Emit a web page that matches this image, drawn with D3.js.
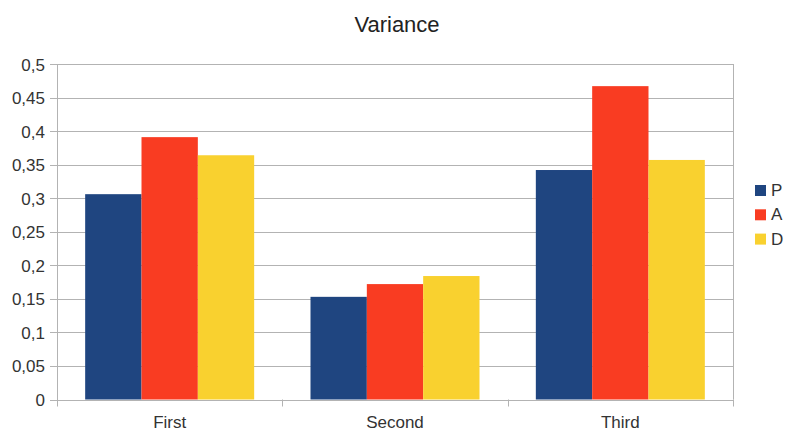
<!DOCTYPE html>
<html><head><meta charset="utf-8">
<script src="https://cdn.jsdelivr.net/npm/d3@7"></script>
<style>body{margin:0;background:#fff}svg{display:block;font-family:"Liberation Sans",Arial,sans-serif}</style>
</head><body><svg id="c" width="786" height="432"></svg>
<script>
const categories = ["First","Second","Third"];
const seriesNames = ["P","A","D"];
const P = [0.306, 0.153, 0.342];
const A = [0.391, 0.172, 0.467];
const D = [0.364, 0.184, 0.357];
const yTicks = [0,0.05,0.1,0.15,0.2,0.25,0.3,0.35,0.4,0.45,0.5];
const colors = ["#1f4580","#f93c22","#f9d12f"];
const values = [P,A,D];

const svg = d3.select("#c");
const m = {l:57, r:733, t:64, b:399.5};
const x = d3.scaleBand().domain(categories).range([m.l,m.r]).paddingInner(0).paddingOuter(0);
const y = d3.scaleLinear().domain([0,0.5]).range([m.b,m.t]);
const inner = d3.scaleBand().domain(seriesNames).range([0,x.bandwidth()]).paddingOuter(0.5).paddingInner(0);
const fmt = d => String(d).replace(".",",");

// grid
svg.append("g").selectAll("line").data(yTicks).join("line")
  .attr("x1",m.l-7).attr("x2",m.r).attr("y1",d=>Math.round(y(d))+0.5).attr("y2",d=>Math.round(y(d))+0.5)
  .attr("stroke","#b3b3b3").attr("stroke-width",1);
// right border
svg.append("line").attr("x1",m.r+0.5).attr("x2",m.r+0.5).attr("y1",m.t).attr("y2",m.b).attr("stroke","#b3b3b3");
// y labels
svg.append("g").selectAll("text").data(yTicks).join("text")
  .attr("x",45).attr("y",d=>y(d)+6.5).attr("text-anchor","end")
  .attr("font-size",17).attr("fill","#333").text(fmt);

// bars
seriesNames.forEach((s,i)=>{
  svg.append("g").selectAll("rect").data(categories).join("rect")
    .attr("x",c=>x(c)+inner(s)).attr("width",inner.bandwidth())
    .attr("y",(c,j)=>y(values[i][j])).attr("height",(c,j)=>y(0)-y(values[i][j]))
    .attr("fill",colors[i]);
});

// axes
svg.append("line").attr("x1",m.l+0.5).attr("x2",m.l+0.5).attr("y1",m.t).attr("y2",m.b+6).attr("stroke","#b3b3b3");
svg.append("line").attr("x1",m.l).attr("x2",m.r+1).attr("y1",Math.round(m.b)+0.5).attr("y2",Math.round(m.b)+0.5).attr("stroke","#b3b3b3");
const bounds = categories.map(c=>x(c)).concat([m.r]);
svg.append("g").selectAll("line").data(bounds).join("line")
  .attr("x1",d=>Math.round(d)+0.5).attr("x2",d=>Math.round(d)+0.5).attr("y1",m.b).attr("y2",m.b+7).attr("stroke","#b3b3b3");
svg.append("g").selectAll("text").data(categories).join("text")
  .attr("x",c=>x(c)+x.bandwidth()/2).attr("y",428).attr("text-anchor","middle")
  .attr("font-size",17).attr("fill","#333").text(d=>d);

// title
svg.append("text").attr("x",397).attr("y",31.5).attr("text-anchor","middle").attr("font-size",22).attr("fill","#222").text("Variance");

// legend
const lg = svg.append("g").selectAll("g").data(seriesNames).join("g")
  .attr("transform",(d,i)=>`translate(755,${185+i*24.3})`);
lg.append("rect").attr("width",11).attr("height",11).attr("fill",(d,i)=>colors[i]);
lg.append("text").attr("x",16).attr("y",11).attr("font-size",17).attr("fill","#333").text(d=>d);
</script></body></html>
